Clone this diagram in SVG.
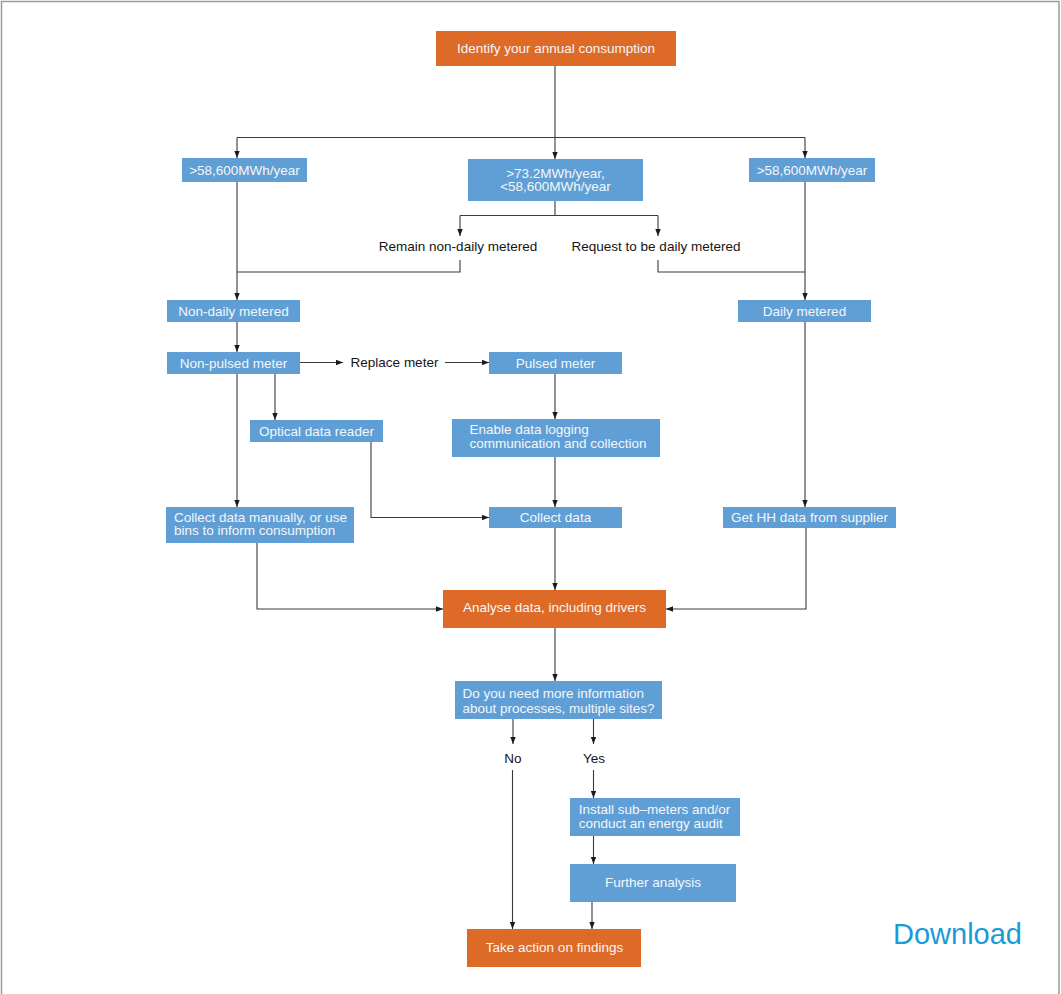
<svg xmlns="http://www.w3.org/2000/svg" width="1061" height="994" viewBox="0 0 1061 994">
<style>
.b{fill:#609FD6}
.o{fill:#DE6A28}
.t{font-family:"Liberation Sans",Arial,sans-serif;font-size:13.5px;fill:#F4F6F8}
.k{font-family:"Liberation Sans",Arial,sans-serif;font-size:13.5px;fill:#151515}
.c{text-anchor:middle}
.ln{fill:none;stroke:#3a3a3a;stroke-width:1.1}
.ar{marker-end:url(#ah)}
</style>
<defs>
<marker id="ah" markerUnits="userSpaceOnUse" markerWidth="7" markerHeight="7" viewBox="0 0 7 7" refX="7" refY="3.5" orient="auto">
<path d="M0,0.8 L7,3.5 L0,6.2 z" fill="#1a1a1a"/>
</marker>
</defs>
<rect width="1061" height="994" fill="#ffffff"/>
<path d="M1.5,994 V1.5 H1059 V994" fill="none" stroke="#9a9a9a" stroke-width="1.5"/>

<g id="connectors">
<path class="ln" d="M555,66 V137.5"/>
<path class="ln" d="M237,137.5 H805"/>
<path class="ln ar" d="M237,137.5 V158"/>
<path class="ln ar" d="M555,137.5 V159"/>
<path class="ln ar" d="M805,137.5 V158"/>
<path class="ln" d="M555,201 V215.5"/>
<path class="ln" d="M460,215.5 H658"/>
<path class="ln ar" d="M460,215.5 V236"/>
<path class="ln ar" d="M658,215.5 V236"/>
<path class="ln ar" d="M237,182 V300"/>
<path class="ln" d="M460,260 V272 H237"/>
<path class="ln ar" d="M805,182 V300"/>
<path class="ln" d="M658,260 V272 H805"/>
<path class="ln ar" d="M237,322 V352"/>
<path class="ln ar" d="M300,362.5 H343"/>
<path class="ln ar" d="M445,362.5 H489"/>
<path class="ln ar" d="M275,374 V420"/>
<path class="ln ar" d="M237,374 V507"/>
<path class="ln ar" d="M555,374 V419"/>
<path class="ln ar" d="M555,457 V507"/>
<path class="ln ar" d="M371,442 V517.5 H489"/>
<path class="ln ar" d="M805,322 V507"/>
<path class="ln ar" d="M257,543 V609 H443"/>
<path class="ln ar" d="M555,528 V590"/>
<path class="ln ar" d="M806,528 V609 H666"/>
<path class="ln ar" d="M555,628 V681"/>
<path class="ln ar" d="M513,719 V744"/>
<path class="ln ar" d="M593.5,719 V744"/>
<path class="ln ar" d="M512.5,770 V929"/>
<path class="ln ar" d="M593.5,770 V798"/>
<path class="ln ar" d="M593.5,836 V864"/>
<path class="ln ar" d="M592,902 V929"/>
</g>

<g id="n-identify"><rect class="o" x="436" y="31" width="240" height="35"/><text class="t c" x="556" y="53.2">Identify your annual consumption</text></g>
<g id="n-large-left"><rect class="b" x="182" y="158" width="125" height="24"/><text class="t c" x="244.5" y="174.7">&gt;58,600MWh/year</text></g>
<g id="n-mid"><rect class="b" x="468" y="159" width="175" height="42"/><text class="t c" x="555.5" y="177.5">&gt;73.2MWh/year,</text><text class="t c" x="555.5" y="190.5">&lt;58,600MWh/year</text></g>
<g id="n-large-right"><rect class="b" x="749" y="158" width="126" height="24"/><text class="t c" x="812" y="174.7">&gt;58,600MWh/year</text></g>
<g id="n-remain"><text class="k c" x="458" y="250.7">Remain non-daily metered</text></g>
<g id="n-request"><text class="k c" x="656" y="250.7">Request to be daily metered</text></g>
<g id="n-nondaily"><rect class="b" x="167" y="300" width="133" height="22"/><text class="t c" x="233.5" y="315.5">Non-daily metered</text></g>
<g id="n-daily"><rect class="b" x="738" y="300" width="133" height="22"/><text class="t c" x="804.5" y="315.5">Daily metered</text></g>
<g id="n-nonpulsed"><rect class="b" x="167" y="352" width="133" height="22"/><text class="t c" x="233.5" y="367.5">Non-pulsed meter</text></g>
<g id="n-replace"><text class="k c" x="394.5" y="367">Replace meter</text></g>
<g id="n-pulsed"><rect class="b" x="489" y="352" width="133" height="22"/><text class="t c" x="555.5" y="367.5">Pulsed meter</text></g>
<g id="n-optical"><rect class="b" x="250" y="420" width="133" height="22"/><text class="t c" x="316.5" y="435.5">Optical data reader</text></g>
<g id="n-enable"><rect class="b" x="452" y="419" width="208" height="38"/><text class="t" x="469.5" y="434">Enable data logging</text><text class="t" x="469.5" y="447.8">communication and collection</text></g>
<g id="n-manual"><rect class="b" x="166" y="507" width="188" height="36"/><text class="t" x="174" y="521.5">Collect data manually, or use</text><text class="t" x="174" y="535.3">bins to inform consumption</text></g>
<g id="n-collect"><rect class="b" x="489" y="507" width="133" height="21"/><text class="t c" x="555.5" y="522">Collect data</text></g>
<g id="n-hh"><rect class="b" x="723" y="507" width="173" height="21"/><text class="t c" x="809.5" y="522">Get HH data from supplier</text></g>
<g id="n-analyse"><rect class="o" x="443" y="590" width="223" height="38"/><text class="t c" x="554.5" y="612">Analyse data, including drivers</text></g>
<g id="n-question"><rect class="b" x="455" y="681" width="207" height="38"/><text class="t" x="462.5" y="698.3">Do you need more information</text><text class="t" x="462.5" y="713">about processes, multiple sites?</text></g>
<g id="n-no"><text class="k c" x="513" y="763">No</text></g>
<g id="n-yes"><text class="k c" x="594" y="763">Yes</text></g>
<g id="n-install"><rect class="b" x="570" y="798" width="170" height="38"/><text class="t" x="578.7" y="814.3">Install sub–meters and/or</text><text class="t" x="578.7" y="828">conduct an energy audit</text></g>
<g id="n-further"><rect class="b" x="570" y="864" width="166" height="38"/><text class="t c" x="653" y="887">Further analysis</text></g>
<g id="n-action"><rect class="o" x="467" y="929" width="174" height="38"/><text class="t c" x="554.5" y="952">Take action on findings</text></g>
<g id="n-download"><text x="1022" y="944" text-anchor="end" font-family="'Liberation Sans',Arial,sans-serif" font-size="29" fill="#1A9BD8">Download</text></g>
</svg>
